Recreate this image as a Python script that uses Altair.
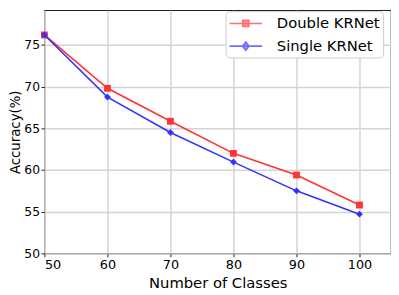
import altair as alt
import pandas as pd

classes = [50, 60, 70, 80, 90, 100]
double_krnet = [76.2, 69.8, 65.85, 62.0, 59.4, 55.8]
single_krnet = [76.2, 68.75, 64.5, 60.95, 57.5, 54.7]
series_names = ["Double KRNet", "Single KRNet"]
series_colors = ["#ff3333", "#3333ff"]
x_ticks = [50, 60, 70, 80, 90, 100]
y_ticks = [50, 55, 60, 65, 70, 75]

df = pd.DataFrame({
    "classes": classes + classes,
    "acc": double_krnet + single_krnet,
    "series": [series_names[0]] * len(classes) + [series_names[1]] * len(classes),
})

FONT = "DejaVu Sans"

x_enc = alt.X("classes:Q", scale=alt.Scale(domain=[50, 105], nice=False, zero=False),
              axis=alt.Axis(values=x_ticks, title="Number of Classes", format="d",
                            titlePadding=4, labelPadding=2))
y_enc = alt.Y("acc:Q", scale=alt.Scale(domain=[50, 79.17], nice=False, zero=False),
              axis=alt.Axis(values=y_ticks, title="Accuracy(%)", format="d",
                            titleFontSize=13.5, titlePadding=1, labelPadding=1.5,
                            labelFontSize=12.5))

base = alt.Chart(df).encode(x=x_enc, y=y_enc)

layers = []
marker_shapes = ["square", "diamond"]
for name, col, shp in zip(series_names, series_colors, marker_shapes):
    sub = base.transform_filter(alt.datum.series == name)
    layers.append(sub.mark_line(color=col, strokeWidth=1.6))
    layers.append(sub.mark_point(color=col, filled=True, opacity=1, shape=shp, size=48))

# legend-only layer (no marks drawn, legend from explicit domain)
legend_paths = [
    "M-2,0H2M-0.38,-0.38H0.38V0.38H-0.38Z",
    "M-2,0H2M0,-0.5L0.4,0L0,0.5L-0.4,0Z",
]
leg = alt.Legend(title=None, orient="none", legendX=184, legendY=1)
legend_layer = base.transform_filter("false").mark_point(filled=True, strokeWidth=1.6).encode(
    fill=alt.Fill("series:N", scale=alt.Scale(domain=series_names, range=series_colors), legend=leg),
    stroke=alt.Stroke("series:N", scale=alt.Scale(domain=series_names, range=series_colors), legend=leg),
    shape=alt.Shape("series:N", scale=alt.Scale(domain=series_names, range=legend_paths), legend=leg),
)
layers.append(legend_layer)

chart = alt.layer(*layers).properties(
    width=352,
    height=247,
    padding={"left": 37, "top": 0, "right": 0, "bottom": 38},
    autosize=alt.AutoSizeParams(type="none"),
).configure_view(
    stroke="#222222", strokeWidth=1.2
).configure_axis(
    labelFont=FONT, titleFont=FONT, labelFontSize=13, titleFontSize=15,
    titleFontWeight="normal", labelColor="black", titleColor="black",
    grid=True, gridColor="#d4d4d4", gridWidth=1.5,
    domain=False, tickColor="#222222", tickSize=3.5, tickWidth=1,
).configure_legend(
    padding=3,
    labelFont=FONT, labelFontSize=15, labelColor="black",
    symbolSize=272, symbolStrokeWidth=1.6, symbolOffset=8,
    labelOffset=22, rowPadding=5,
    strokeColor="#cccccc", cornerRadius=4, fillColor="white",
)

chart.save("out.html", embed_options={"renderer": "svg", "actions": False})
